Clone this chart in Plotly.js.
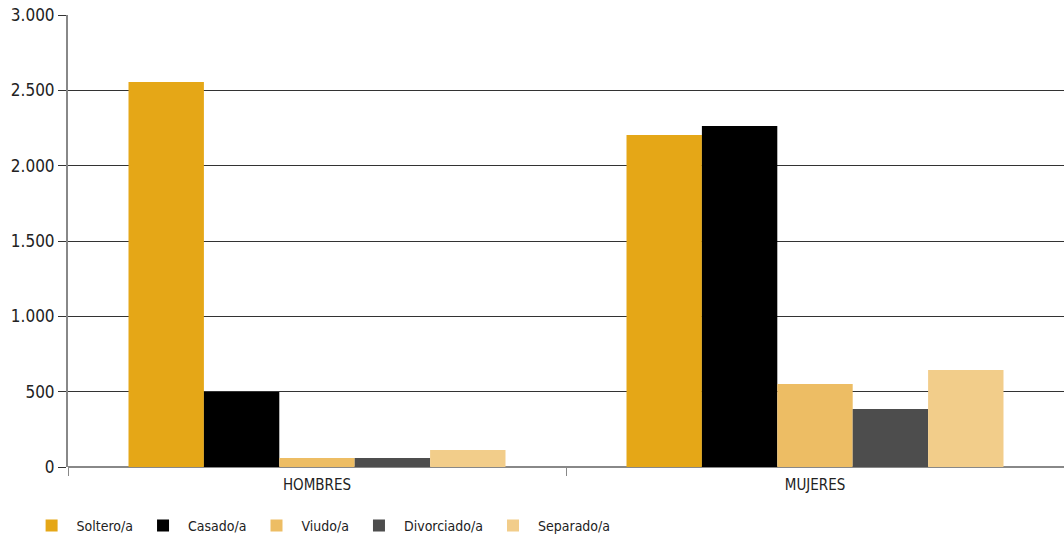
<!DOCTYPE html>
<html><head><meta charset="utf-8">
<script src="https://cdn.plot.ly/plotly-3.0.1.min.js"></script>
<style>html,body{margin:0;padding:0;background:#fff}#chart{width:1064px;height:537px}</style>
</head><body><div id="chart"></div>
<script>
var categories = ["HOMBRES", "MUJERES"];
var seriesNames = ["Soltero/a", "Casado/a", "Viudo/a", "Divorciado/a", "Separado/a"];
var soltero = [2555, 2203];
var casado = [498, 2263];
var viudo = [60, 551];
var divorciado = [60, 385];
var separado = [113, 644];
var colors = ["#E5A717", "#000000", "#EDBD64", "#4D4D4D", "#F2CD8A"];
var values = [soltero, casado, viudo, divorciado, separado];
var font = "'Liberation Sans Narrow', 'DejaVu Sans Condensed', sans-serif";
var data = values.map(function(v, i){
  return {type:"bar", name: seriesNames[i], x: categories, y: v, marker:{color: colors[i]}};
});
var layout = {
  width:1064, height:537,
  margin:{l:68, r:0, t:15, b:70},
  barmode:"group", bargap:0.243, bargroupgap:0,
  separators:",.",
  font:{family:font, size:15, color:"#222"},
  plot_bgcolor:"#fff", paper_bgcolor:"#fff",
  xaxis:{tickson:"boundaries", ticks:"outside", ticklen:8, tickcolor:"#888", showline:false,
    ticklabelstandoff:7,
    tickfont:{family:font, size:15, color:"#222"}},
  yaxis:{range:[0,3000], dtick:500, tickformat:",d", showgrid:true, gridcolor:"#333", gridwidth:1,
    ticks:"outside", ticklen:8, tickcolor:"#333", showline:true, linecolor:"#888", linewidth:2,
    zeroline:true, zerolinecolor:"#888", zerolinewidth:2,
    tickfont:{family:font, size:17, color:"#222"}},
  legend:{orientation:"h", xref:"container", yref:"container", x:0.025, y:0.0205, yanchor:"middle", xanchor:"left",
    font:{family:font, size:14, color:"#222"}, itemwidth:40}
};
Plotly.newPlot("chart", data, layout, {displayModeBar:false});
</script></body></html>
